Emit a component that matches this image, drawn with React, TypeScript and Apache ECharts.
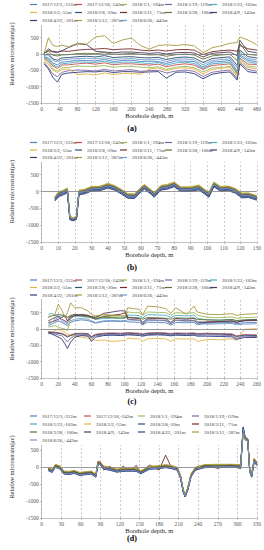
import React, { useEffect, useRef } from "react";
import * as echarts from "echarts";

const SERIES_NAMES = [
  "2017/12/3,-312m", "2017/12/18,-242m", "2018/1/1,-194m", "2018/1/19,-119m", "2018/1/23,-103m",
  "2018/2/2,-55m", "2018/2/8,-20m", "2018/3/11,+71m", "2018/3/28,+106m", "2018/4/9,+143m",
  "2018/4/22,+201m", "2018/5/12,+287m", "2018/6/26,+443m",
];
const COLORS = [
  "#4F81BD", "#C0504D", "#9BBB59", "#8064A2", "#4BACC6", "#E3B44A", "#2C4D75",
  "#772C2A", "#5F7530", "#4D3B62", "#2E3C7A", "#A8983A", "#729ACA",
];
const PANEL_LABELS = ["(a)", "(b)", "(c)", "(d)"];
const X_MAX = [480, 130, 260, 330];
const X_STEP = [40, 10, 20, 30];
const Y_MIN = -1500;
const Y_MAX = 1500;
const Y_STEP = 500;

// ---------- Panel (a) ----------
const DEPTH_A = [5, 15, 25, 35, 45, 60, 80, 100, 120, 140, 160, 180, 200, 220, 240, 260, 278, 300, 320, 340, 360, 380, 400, 420, 436, 442, 460, 480];
const A1 = [-80, -120, -280, -330, -250, -230, -190, -200, -210, -170, -230, -200, -190, -230, -220, -230, -290, -210, -220, -230, -400, -250, -230, -200, -520, -20, -190, -240];
const A2 = [-120, -210, -370, -440, -340, -330, -300, -280, -310, -270, -330, -300, -300, -320, -340, -310, -390, -330, -300, -340, -470, -350, -330, -300, -600, -120, -310, -320];
const A3 = [-150, -260, -460, -520, -420, -410, -370, -380, -380, -350, -410, -380, -380, -400, -420, -390, -470, -400, -380, -420, -550, -430, -410, -380, -660, -160, -370, -400];
const A4 = [-250, -420, -610, -700, -560, -510, -490, -500, -520, -470, -520, -500, -480, -530, -510, -500, -580, -520, -490, -530, -690, -560, -520, -490, -760, -260, -470, -530];
const A5 = [-100, -160, -330, -390, -300, -280, -240, -250, -260, -220, -280, -250, -250, -270, -290, -260, -340, -270, -250, -290, -440, -300, -280, -250, -560, -60, -240, -290];
const A6 = [-200, -320, -500, -570, -480, -460, -630, -610, -640, -580, -630, -600, -590, -620, -460, -430, -510, -440, -420, -460, -610, -480, -440, -410, -700, -210, -410, -460];
const A7 = [-40, 10, -150, -190, -120, -110, -80, -70, -90, -50, -110, -90, -80, -110, -120, -100, -170, -110, -90, -120, -260, -140, -110, -90, -350, 120, -80, -120];
const A8 = [20, 100, 80, 60, 90, 80, 120, 140, 150, 170, 130, 150, 160, 120, 100, 120, 90, 130, 140, 120, -20, 70, 100, 120, 80, 260, 160, 120];
const A9 = [40, 80, -40, -60, -30, -20, 10, 20, 10, 40, -10, 0, 20, -10, -30, -20, -70, -20, 0, -30, -160, -60, -30, -10, -200, 320, -10, -40];
const A10 = [0, 160, 60, 50, 100, 200, 310, 290, 80, 60, 40, 60, 60, 40, 20, 40, 0, 40, 50, 30, -90, 20, 40, 60, -50, 420, 80, 40];
const A11 = [-300, -460, -720, -860, -620, -580, -560, -540, -550, -520, -570, -540, -540, -560, -550, -540, -740, -560, -550, -600, -760, -620, -570, -550, -800, -300, -540, -580];
const A12 = [0, 500, 260, 230, 270, 220, 330, 300, 520, 560, 320, 430, 490, 260, 150, 260, 280, 260, 290, 250, 40, 190, 250, 330, 350, 520, 430, 280];
const A13 = [-20, -40, -200, -240, -180, -160, -140, -130, -150, -120, -170, -150, -140, -170, -180, -160, -230, -160, -150, -180, -330, -200, -170, -150, -420, 60, -140, -180];
const VALUES_A = [A1, A2, A3, A4, A5, A6, A7, A8, A9, A10, A11, A12, A13];

// ---------- Panel (b) ----------
const DEPTH_B = [8, 10, 13, 15.5, 17, 19, 21, 22.5, 26, 30, 35, 40, 44, 48, 52, 56, 59, 62, 66, 68, 72, 76, 80, 84, 90, 95, 98, 101, 104, 108, 113, 117, 121, 125, 128, 130];
const B1 = [-235, -105, -50, 10, -800, -840, -790, -55, -20, 60, 75, 150, 90, -20, -150, -160, -10, 120, -30, -120, 90, 125, 190, 50, 50, 100, -10, -120, 190, 60, 70, 0, -140, -130, -180, -215];
const B2 = [-200, -75, -25, 45, -780, -815, -770, -20, 15, 85, 100, 185, 115, 15, -115, -130, 25, 145, 5, -90, 125, 145, 225, 75, 85, 125, 25, -85, 215, 95, 95, 35, -110, -95, -150, -175];
const B3 = [-150, -20, 45, 100, -730, -780, -720, 40, 70, 150, 155, 245, 180, 70, -60, -65, 80, 210, 60, -25, 180, 215, 280, 140, 140, 195, 80, -30, 285, 150, 160, 95, -45, -40, -90, -120];
const B4 = [-265, -140, -80, -20, -820, -860, -810, -80, -50, 30, 40, 120, 60, -50, -180, -190, -40, 90, -60, -150, 60, 90, 160, 20, 20, 70, -40, -150, 160, 30, 40, -30, -170, -160, -210, -240];
const B5 = [-220, -100, -40, 20, -790, -830, -780, -40, -10, 70, 80, 160, 100, -10, -140, -150, 0, 130, -20, -110, 100, 130, 200, 60, 60, 110, 0, -110, 200, 70, 80, 10, -130, -120, -170, -200];
const B6 = [-160, -30, 30, 90, -740, -790, -730, 30, 60, 140, 150, 235, 170, 60, -70, -80, 70, 200, 50, -40, 170, 200, 275, 130, 130, 185, 70, -40, 270, 140, 150, 85, -60, -50, -100, -130];
const B7 = [-245, -120, -60, 0, -805, -845, -795, -60, -30, 50, 60, 140, 80, -30, -160, -170, -20, 110, -40, -130, 80, 110, 180, 40, 40, 90, -20, -130, 180, 50, 60, -10, -150, -140, -190, -220];
const B8 = [-175, -55, 5, 65, -770, -810, -750, 5, 35, 115, 125, 205, 145, 35, -95, -105, 45, 175, 25, -65, 145, 175, 245, 105, 105, 155, 45, -65, 245, 115, 125, 55, -85, -75, -125, -155];
const B9 = [-185, -65, -5, 55, -765, -815, -755, -5, 25, 105, 115, 195, 135, 25, -105, -115, 35, 165, 15, -75, 135, 165, 235, 95, 95, 145, 35, -75, 235, 105, 115, 45, -95, -85, -135, -165];
const B10 = [-195, -75, -15, 45, -775, -815, -765, -15, 15, 95, 105, 185, 125, 15, -115, -125, 25, 155, 5, -85, 125, 155, 225, 85, 85, 135, 25, -85, 225, 95, 105, 35, -105, -95, -145, -175];
const B11 = [-280, -160, -100, -40, -840, -870, -830, -100, -70, 10, 20, 100, 40, -70, -200, -210, -60, 70, -80, -170, 40, 70, 140, 0, 0, 50, -60, -170, 140, 10, 20, -50, -190, -180, -230, -260];
const B12 = [-170, -40, 20, 80, -760, -800, -740, 20, 50, 130, 140, 220, 160, 50, -80, -90, 60, 190, 40, -50, 160, 190, 260, 120, 120, 170, 60, -50, 260, 130, 140, 70, -70, -60, -110, -140];
const B13 = [-210, -90, -30, 30, -785, -825, -775, -30, 0, 80, 90, 170, 110, 0, -130, -140, 10, 140, -10, -100, 110, 140, 210, 70, 70, 120, 10, -100, 210, 80, 90, 20, -120, -110, -160, -190];
const VALUES_B = [B1, B2, B3, B4, B5, B6, B7, B8, B9, B10, B11, B12, B13];

// ---------- Panel (c) ----------
const DEPTH_C = [8, 12, 16, 20, 24, 28, 31, 35, 40, 48, 56, 60, 65, 75, 85, 95, 101, 104, 112, 118, 122, 128, 140, 150, 156, 162, 175, 184, 188, 200, 215, 230, 235, 245, 260];
const C1 = [100, 150, 200, 250, 200, 150, 100, 200, 250, 280, 260, 220, 180, 230, 240, 230, 240, 220, 210, 200, 130, 210, 200, 190, 120, 200, 190, 200, 130, 180, 190, 200, 160, 190, 200];
const C2 = [-80, -90, -100, -120, -130, -170, -220, -180, -140, -130, -140, -230, -160, -130, -120, -130, -120, -110, -120, -130, -150, -120, -110, -120, -140, -120, -130, -120, -140, -130, -140, -150, -210, -170, -180];
const C3 = [60, 80, 100, 60, 20, 0, -50, 300, 420, 420, 400, 380, 380, 400, 390, 400, 380, 520, 500, 500, 420, 520, 510, 500, 420, 500, 480, 500, 420, 360, 350, 370, 330, 350, 360];
const C4 = [-130, -140, -160, -180, -200, -300, -400, -280, -200, -180, -190, -300, -210, -180, -170, -180, -170, -160, -170, -180, -200, -170, -160, -170, -190, -170, -180, -170, -190, -180, -190, -200, -280, -220, -230];
const C5 = [450, 480, 420, 380, 400, 420, 350, 380, 400, 380, 360, 350, 300, 320, 330, 320, 330, 430, 420, 410, 340, 440, 430, 420, 350, 420, 400, 420, 330, 280, 270, 290, 250, 270, 280];
const C6 = [-150, -100, -50, 0, -50, -100, -150, -200, -220, -250, -280, -300, -350, -340, -380, -360, -350, -280, -300, -300, -380, -300, -290, -300, -380, -300, -310, -300, -380, -320, -330, -300, -340, -10, 10];
const C7 = [-100, -110, -120, -130, -150, -200, -250, -200, -160, -150, -160, -250, -180, -150, -140, -150, -140, -130, -140, -150, -170, -140, -130, -140, -160, -140, -150, -140, -160, -150, -160, -170, -230, -190, -200];
const C8 = [200, 220, 250, 300, 350, 400, 250, 400, 450, 420, 400, 350, 300, 380, 420, 450, 500, 300, 280, 270, 150, 280, 270, 260, 160, 270, 250, 260, 180, 220, 230, 240, 210, 250, 260];
const C9 = [380, 400, 420, 450, 430, 400, 360, 420, 430, 400, 380, 340, 330, 360, 350, 340, 350, 360, 350, 340, 300, 350, 340, 330, 300, 340, 330, 340, 290, 280, 270, 290, 260, 280, 290];
const C10 = [250, 300, 350, 400, 300, 250, 200, 350, 400, 450, 420, 380, 350, 480, 520, 560, 550, 350, 330, 320, 200, 330, 320, 310, 200, 320, 300, 320, 220, 200, 220, 250, 200, 260, 280];
const C11 = [-120, -150, -200, -250, -300, -450, -600, -400, -250, -200, -220, -380, -250, -200, -190, -200, -190, -180, -190, -200, -220, -190, -180, -190, -210, -190, -200, -190, -220, -220, -230, -240, -320, -260, -260];
const C12 = [350, 400, 450, 750, 600, 350, 500, 800, 650, 650, 550, 450, 400, 450, 420, 400, 400, 650, 620, 600, 430, 700, 680, 620, 480, 650, 450, 700, 520, 450, 440, 470, 420, 450, 470];
const C13 = [150, 200, 300, 350, 250, 200, 150, 250, 300, 320, 300, 250, 200, 250, 260, 250, 260, 280, 270, 260, 180, 270, 260, 250, 170, 260, 240, 250, 170, 150, 160, 170, 130, 150, 160];
const VALUES_C = [C1, C2, C3, C4, C5, C6, C7, C8, C9, C10, C11, C12, C13];

// ---------- Panel (d) ----------
const DEPTH_D = [10, 16, 21, 28, 34, 42, 50, 58, 66, 76, 83, 86, 89, 95, 105, 115, 125, 135, 145, 152, 165, 180, 190, 200, 208, 213, 217, 220, 224, 229, 236, 250, 270, 290, 305, 309, 312, 316, 319, 322, 326, 330];
const D1 = [-90, -140, 10, -40, -190, -200, -170, -230, -210, -190, -280, 60, 100, -40, -80, -130, -110, -100, -110, -180, -50, -30, 0, -30, -80, -320, -720, -880, -670, -270, -70, 0, 10, 10, 0, 1180, 880, 820, -120, -280, 180, 60];
const D2 = [-40, -90, 60, 10, -140, -150, -120, -180, -160, -140, -230, 110, 150, 10, -30, -80, -60, -50, -60, -130, 0, 20, 50, 20, -30, -270, -680, -840, -630, -220, -20, 50, 60, 60, 50, 1050, 830, 790, -70, -220, 230, 110];
const D3 = [-60, -110, 40, -10, -160, -170, -140, -200, -180, -160, -250, 90, 130, -10, -50, -100, -80, -70, -80, -150, -20, 0, 30, 0, -50, -290, -690, -850, -640, -240, -40, 30, 40, 40, 30, 1100, 860, 810, -90, -240, 210, 90];
const D4 = [-100, -150, 0, -50, -200, -210, -180, -240, -220, -200, -290, 50, 90, -50, -90, -140, -120, -110, -120, -190, -60, -40, -10, -40, -90, -330, -740, -870, -680, -280, -80, -10, 0, 0, -10, 1150, 870, 800, -130, -290, 170, 50];
const D5 = [-80, -130, 20, -30, -180, -190, -160, -220, -200, -180, -270, 70, 110, -30, -70, -120, -100, -90, -100, -170, -40, -20, 10, -20, -70, -310, -710, -860, -660, -260, -60, 10, 20, 20, 10, 1120, 850, 810, -110, -260, 190, 70];
const D6 = [-30, -80, 70, 20, -130, -140, -110, -170, -150, -130, -220, 120, 160, 20, -20, -70, -50, -40, -50, -120, 10, 30, 60, 30, -20, -260, -660, -820, -610, -210, -10, 60, 70, 70, 60, 1000, 820, 780, -60, -210, 240, 120];
const D7 = [-70, -120, 30, -20, -170, -180, -150, -210, -190, -170, -260, 80, 120, -20, -60, -110, -90, -80, -90, -160, -30, -10, 20, -10, -60, -300, -700, -860, -650, -250, -50, 20, 30, 30, 20, 1150, 850, 800, -100, -250, 200, 80];
const D8 = [-60, -100, 40, 0, -150, -160, -130, -200, -170, -150, -240, 160, 150, -80, 20, -150, 30, -130, 50, -200, 60, -90, 350, -60, -20, -280, -680, -830, -620, -220, -100, 60, -40, 70, -50, 1020, 800, 760, -70, -220, 240, 120];
const D9 = [-50, -100, 50, 0, -150, -160, -130, -190, -170, -150, -240, 100, 140, 0, -40, -90, -70, -60, -70, -140, -10, 10, 40, 10, -40, -280, -690, -850, -640, -230, -30, 40, 50, 50, 40, 1080, 840, 800, -80, -230, 220, 100];
const D10 = [-80, -125, 25, -30, -185, -190, -165, -220, -195, -180, -270, 70, 115, -30, -65, -120, -100, -85, -100, -170, -40, -15, 10, -20, -65, -310, -720, -870, -660, -260, -60, 10, 20, 25, 10, 1130, 860, 810, -110, -260, 190, 70];
const D11 = [-110, -160, -10, -60, -210, -220, -190, -250, -230, -210, -300, 40, 80, -60, -100, -150, -130, -120, -130, -200, -70, -50, -20, -50, -100, -340, -750, -880, -690, -290, -90, -20, -10, -10, -20, 1160, 880, 830, -140, -300, 160, 40];
const D12 = [-20, -70, 80, 30, -120, -130, -100, -160, -140, -120, -210, 130, 170, 30, -10, -60, -40, -30, -40, -110, 20, 40, 70, 40, -10, -250, -650, -810, -600, -200, 0, 70, 80, 80, 70, 980, 800, 770, -50, -200, 250, 130];
const D13 = [-90, -135, 10, -40, -190, -195, -170, -230, -210, -185, -280, 60, 100, -40, -80, -130, -110, -100, -110, -180, -50, -30, 0, -30, -80, -320, -720, -860, -670, -270, -70, 0, 10, 10, 0, 1120, 860, 810, -120, -270, 180, 60];
const VALUES_D = [D1, D2, D3, D4, D5, D6, D7, D8, D9, D10, D11, D12, D13];

const DEPTHS = [DEPTH_A, DEPTH_B, DEPTH_C, DEPTH_D];
const VALUES = [VALUES_A, VALUES_B, VALUES_C, VALUES_D];

const FONT = "'Liberation Serif', 'Times New Roman', serif";

// layout (pixels)
const LAYOUT = [
  { top: 5, height: 98, rows: [5, 13, 21], cols: 5, colW: 45, labelY: 128, maskTop: 0.5, maskH: 25 },
  { top: 141, height: 101, rows: [143, 150.5, 158], cols: 5, colW: 45, labelY: 267, maskTop: 139, maskH: 23 },
  { top: 280, height: 98, rows: [280.5, 288, 295.5], cols: 5, colW: 45, labelY: 401, maskTop: 277, maskH: 22 },
  { top: 416, height: 102, rows: [416.5, 424.5, 432.5, 440.5], cols: 4, colW: 54, labelY: 538, maskTop: 412, maskH: 33 },
];

const plainNumber = (v: number) => String(v);

function buildOption() {
  const grid: any[] = [];
  const xAxis: any[] = [];
  const yAxis: any[] = [];
  const series: any[] = [];
  const legend: any[] = [];
  const graphic: any[] = [];

  LAYOUT.forEach((L, p) => {
    grid.push({ left: 22, width: 235, top: L.top, height: L.height });
    xAxis.push({
      type: "value",
      gridIndex: p,
      min: 0,
      max: X_MAX[p],
      interval: X_STEP[p],
      name: "Borehole depth, m",
      nameLocation: "middle",
      nameGap: 8,
      nameTextStyle: { fontSize: 6.5, fontFamily: FONT, color: "#262626" },
      axisLine: { onZero: false, lineStyle: { color: "#A6A6A6", width: 0.7 } },
      axisTick: { show: true, length: 2, lineStyle: { color: "#A6A6A6", width: 0.7 } },
      axisLabel: { fontSize: 5.5, margin: 2.5, color: "#595959", fontFamily: FONT, formatter: plainNumber },
      splitLine: { show: true, lineStyle: { color: "#A6A6A6", type: [2, 2], width: 0.6 } },
    });
    yAxis.push({
      type: "value",
      gridIndex: p,
      min: Y_MIN,
      max: Y_MAX,
      interval: Y_STEP,
      name: "Relative microstrain(με)",
      nameLocation: "middle",
      nameGap: 13,
      nameTextStyle: { fontSize: 6.5, fontFamily: FONT, color: "#262626" },
      axisLine: { show: true, lineStyle: { color: "#A6A6A6", width: 0.7 } },
      axisTick: { show: true, length: 2, lineStyle: { color: "#A6A6A6", width: 0.7 } },
      axisLabel: { fontSize: 5.5, margin: 3, color: "#595959", fontFamily: FONT, formatter: plainNumber },
      splitLine: { show: false },
    });

    const depth = DEPTHS[p];
    VALUES[p].forEach((vals, i) => {
      const s: any = {
        type: "line",
        name: SERIES_NAMES[i],
        xAxisIndex: p,
        yAxisIndex: p,
        showSymbol: false,
        symbol: "none",
        lineStyle: { color: COLORS[i], width: 0.9 },
        itemStyle: { color: COLORS[i] },
        data: depth.map((d, k) => [d, vals[k]]),
        z: 2,
      };
      if (i === 0) {
        s.markLine = {
          silent: true,
          symbol: "none",
          label: { show: false },
          lineStyle: { color: "#808080", width: 0.8, type: "solid" },
          data: [{ yAxis: 0 }],
        };
      }
      series.push(s);

      const col = i % L.cols;
      const row = Math.floor(i / L.cols);
      legend.push({
        data: [{ name: SERIES_NAMES[i], icon: "rect" }],
        left: 30 + col * L.colW,
        top: L.rows[row] - 3,
        padding: 0,
        itemWidth: 7,
        itemHeight: 1.2,
        itemGap: 0,
        selectedMode: false,
        textStyle: { fontSize: 5, fontFamily: FONT, color: "#404040" },
      });
    });

    graphic.push({
      type: "rect",
      z: 1,
      silent: true,
      shape: { x: 28, y: L.maskTop, width: 231, height: L.maskH },
      style: { fill: "#ffffff" },
    });
    graphic.push({
      type: "text",
      x: 132,
      y: L.labelY,
      z: 5,
      style: {
        text: PANEL_LABELS[p],
        fontSize: 8,
        fontWeight: "bold",
        fontFamily: FONT,
        fill: "#000000",
        align: "center",
        verticalAlign: "middle",
      },
    });
  });

  return {
    animation: false,
    backgroundColor: "#ffffff",
    textStyle: { fontFamily: FONT },
    grid,
    xAxis,
    yAxis,
    legend,
    graphic,
    series,
  };
}

export default function App() {
  const ref = useRef<HTMLDivElement>(null);
  useEffect(() => {
    if (!ref.current) return;
    const chart = echarts.init(ref.current, null, { renderer: "svg" });
    chart.setOption(buildOption());
    return () => chart.dispose();
  }, []);
  return (
    <div
      ref={ref}
      style={{ position: "fixed", left: 0, top: 0, width: 264, height: 550, background: "#fff" }}
    />
  );
}
